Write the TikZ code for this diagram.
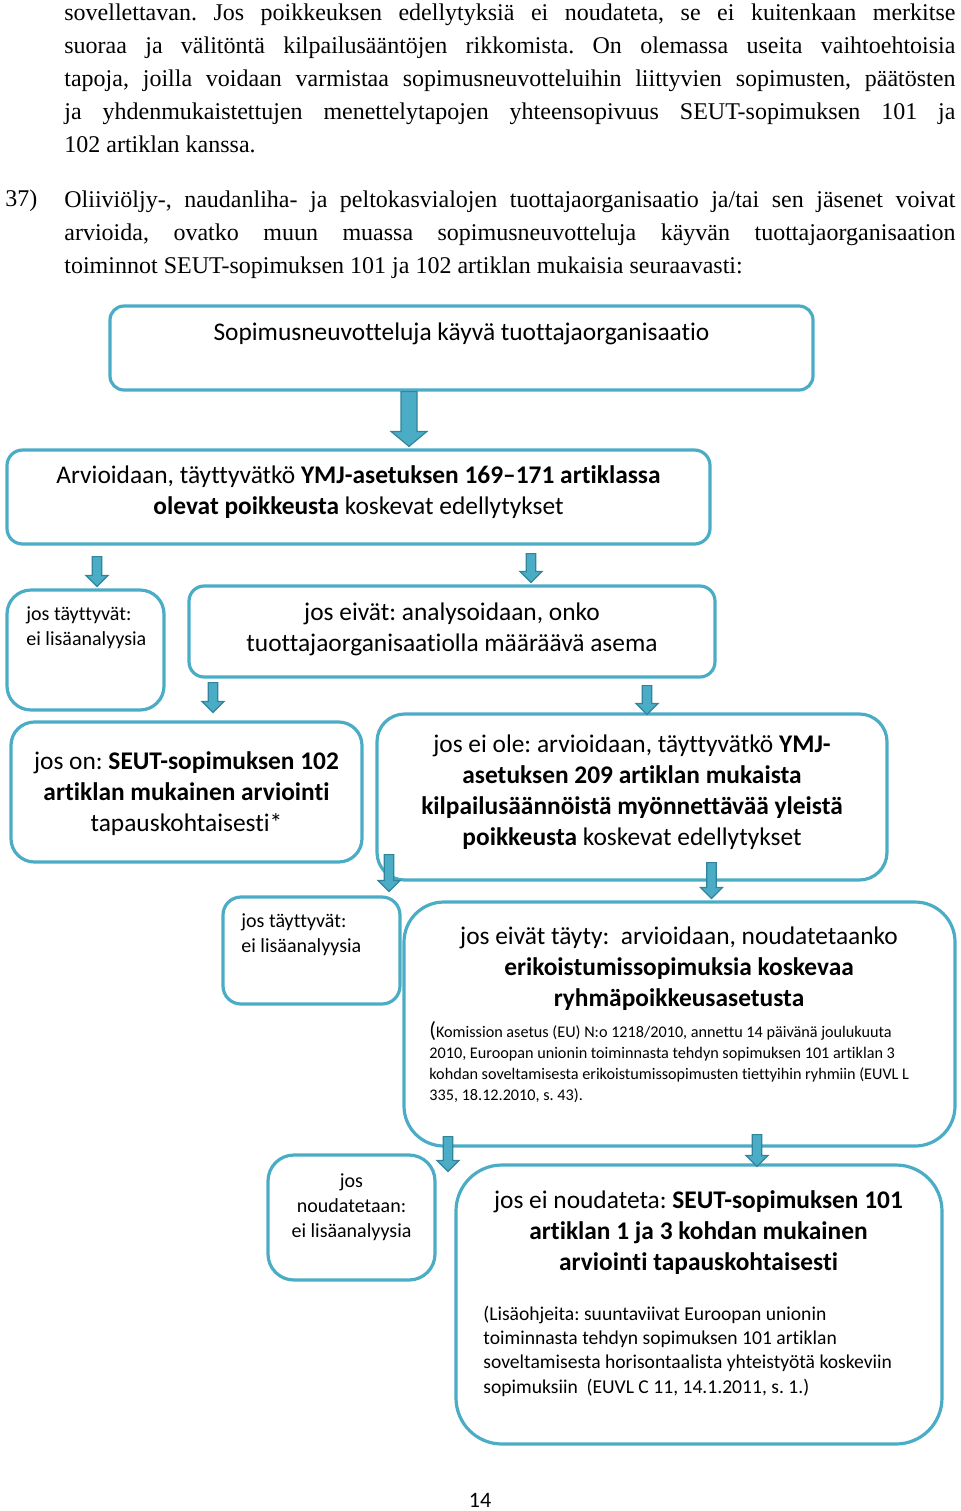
\documentclass[tikz,border=0pt]{standalone}
\usepackage{fontspec}
\setmainfont{Carlito}[Ligatures=NoCommon]
\newfontfamily\bodyfont{Liberation Serif}
\usetikzlibrary{calc,positioning}
\frenchspacing

\definecolor{boxedge}{HTML}{4BACC6}
\definecolor{arrowfill}{HTML}{4BACC6}
\definecolor{arrowedge}{HTML}{31849B}

\begin{document}
\begin{tikzpicture}[x=0.5pt, y=-0.5pt,
  block/.style={draw=boxedge, line width=1.6pt, rounded corners=#1, inner sep=0pt},
  block/.default=8pt,
  bigtext/.style={font=\fontsize{12.7}{15.5}\selectfont, align=center, inner sep=0pt},
  smalltext/.style={font=\fontsize{10}{12.5}\selectfont, align=left, inner sep=0pt},
  bodytext/.style={font=\fontsize{12}{16.5}\bodyfont, text width=445.5pt, align=justify,
    inner sep=0pt, execute at begin node={\tolerance=10000 }},
  flow/.style n args={3}{draw=arrowedge, fill=arrowfill, line width=0.6pt,
    to path={let \p1=(\tikztostart), \p2=(\tikztotarget) in
      (\x1-#1,\y1) -- (\x1-#1,\y2+#3) -- (\x1-#2,\y2+#3) -- (\x1,\y2)
      -- (\x1+#2,\y2+#3) -- (\x1+#1,\y2+#3) -- (\x1+#1,\y1) -- cycle}},
  smallflow/.style={flow={2.4pt}{5.6pt}{5.5pt}}]
\useasboundingbox (0,0) rectangle (960,1511);

% text above the chart
\node (kappale1) [bodytext, anchor=north west] at (64,3) {\noindent
sovellettavan. Jos poikkeuksen edellytyksiä ei noudateta, se ei kuitenkaan merkitse\linebreak
suoraa ja välitöntä kilpailusääntöjen rikkomista. On olemassa useita vaihtoehtoisia\linebreak
tapoja, joilla voidaan varmistaa sopimusneuvotteluihin liittyvien sopimusten, päätösten\linebreak
ja yhdenmukaistettujen menettelytapojen yhteensopivuus SEUT-sopimuksen 101 ja\linebreak
102 artiklan kanssa.};
\node (numero) [font=\fontsize{12}{16.5}\bodyfont, inner sep=0pt, anchor=base west] at (5,206) {37)};
\node (kappale2) [bodytext, anchor=north west] at (64,190) {\noindent
Oliiviöljy-, naudanliha- ja peltokasvialojen tuottajaorganisaatio ja/tai sen jäsenet voivat\linebreak
arvioida, ovatko muun muassa sopimusneuvotteluja käyvän tuottajaorganisaation\linebreak
toiminnot SEUT-sopimuksen 101 ja 102 artiklan mukaisia seuraavasti:};

% boxes
\node (organisaatio) [block=7pt, minimum width=351.5pt, minimum height=42pt] at (461.5,348) {};
\node (arviointi) [block=7.8pt, minimum width=351.5pt, minimum height=47pt] at (358.5,497) {};
\node (tayttyvat) [block=12pt, minimum width=78.5pt, minimum height=60pt] at (85.5,650) {};
\node (asema) [block=7.6pt, minimum width=263pt, minimum height=45.5pt] at (452,631.5) {};
\node (artikla102) [block=11.7pt, minimum width=175.5pt, minimum height=70pt] at (186.5,792) {};
\node (yleispoikkeus) [block=13.8pt, minimum width=255pt, minimum height=83pt] at (632,797) {};
\node (tayttyvat2) [block=9pt, minimum width=88.5pt, minimum height=53.5pt] at (311.5,950.5) {};
\node (erikoistuminen) [block=20pt, minimum width=275.5pt, minimum height=122pt] at (679.5,1024) {};
\node (noudatetaan) [block=13pt, minimum width=83.5pt, minimum height=62.5pt] at (351.5,1217.5) {};
\node (artikla101) [block=23pt, minimum width=243pt, minimum height=139.5pt] at (699,1304.5) {};

% texts in the boxes
\node (organisaatioteksti) [bigtext] at (461.5,334) {Sopimusneuvotteluja käyvä tuottajaorganisaatio};
\node (arviointiteksti) [bigtext] at (358.5,492.5) {Arvioidaan, täyttyvätkö \textbf{YMJ-asetuksen 169–171 artiklassa}\\
  \textbf{olevat poikkeusta} koskevat edellytykset};
\node (tayttyvatteksti) [smalltext, anchor=west] at (26,628) {jos täyttyvät:\\ ei lisäanalyysia};
\node (asemateksti) [bigtext] at (452,629.5) {jos eivät: analysoidaan, onko\\
  tuottajaorganisaatiolla määräävä asema};
\node (artikla102teksti) [bigtext] at (186.5,794) {jos on: \textbf{SEUT-sopimuksen 102}\\
  \textbf{artiklan mukainen arviointi}\\ tapauskohtaisesti*};
\node (yleispoikkeusteksti) [bigtext] at (632,792.5) {jos ei ole: arvioidaan, täyttyvätkö \textbf{YMJ-}\\
  \textbf{asetuksen 209 artiklan mukaista}\\ \textbf{kilpailusäännöistä myönnettävää yleistä}\\
  \textbf{poikkeusta} koskevat edellytykset};
\node (tayttyvat2teksti) [smalltext, anchor=west] at (241,935) {jos täyttyvät:\\ ei lisäanalyysia};
\node (erikoistuminenteksti) [bigtext] at (679,968.5) {jos eivät täyty:~ arvioidaan, noudatetaanko\\
  \textbf{erikoistumissopimuksia koskevaa}\\ \textbf{ryhmäpoikkeusasetusta}};
\node (asetusviite) [smalltext, font=\fontsize{8.1}{10.5}\selectfont, anchor=west] at (429,1062.5)
  {{\fontsize{11}{10.5}\selectfont(}Komission asetus (EU) N:o 1218/2010, annettu 14 päivänä joulukuuta\\
  2010, Euroopan unionin toiminnasta tehdyn sopimuksen 101 artiklan 3\\
  kohdan soveltamisesta erikoistumissopimusten tiettyihin ryhmiin (EUVL L\\
  335, 18.12.2010, s. 43).};
\node (noudatetaanteksti) [smalltext, align=center] at (351.5,1207) {jos\\ noudatetaan:\\ ei lisäanalyysia};
\node (artikla101teksti) [bigtext] at (698.5,1233) {jos ei noudateta: \textbf{SEUT-sopimuksen 101}\\
  \textbf{artiklan 1 ja 3 kohdan mukainen}\\ \textbf{arviointi tapauskohtaisesti}};
\node (suuntaviivat) [smalltext, font=\fontsize{9.8}{12.15}\selectfont, anchor=west] at (483,1351)
  {(Lisäohjeita: suuntaviivat Euroopan unionin\\ toiminnasta tehdyn sopimuksen 101 artiklan\\
  soveltamisesta horisontaalista yhteistyötä koskeviin\\ sopimuksiin~ (EUVL C 11, 14.1.2011, s. 1.)};

% arrows
\draw[flow={4pt}{9pt}{7.5pt}] ([xshift=-26.25pt]organisaatio.south) to ([yshift=1pt]arviointi.north);
\draw[smallflow] ([xshift=-130.75pt, yshift=-5.5pt]arviointi.south) to ([yshift=1pt]tayttyvat.north);
\draw[smallflow] ([xshift=86.25pt, yshift=-4pt]arviointi.south) to ([yshift=1pt]asema.north);
\draw[smallflow] ([xshift=-119.5pt, yshift=-2pt]asema.south) to ([yshift=4pt]artikla102.north);
\draw[smallflow] ([xshift=97.5pt, yshift=-3.5pt]asema.south) to ([yshift=-1pt]yleispoikkeus.north);
\draw[smallflow] ([xshift=-121.5pt, yshift=13.5pt]yleispoikkeus.south) to ([yshift=2pt]tayttyvat2.north);
\draw[smallflow] ([xshift=39.75pt, yshift=9.5pt]yleispoikkeus.south) to ([yshift=1pt]erikoistuminen.north);
\draw[smallflow] ([xshift=-115.75pt, yshift=5.5pt]erikoistuminen.south) to ([yshift=-4pt]artikla101.north);
\draw[smallflow] ([xshift=38.75pt, yshift=6.5pt]erikoistuminen.south) to ([yshift=-1.5pt]artikla101.north);

\node (sivu) [font=\fontsize{11}{13}\selectfont, inner sep=0pt] at (480,1500) {14};
\end{tikzpicture}
\end{document}
